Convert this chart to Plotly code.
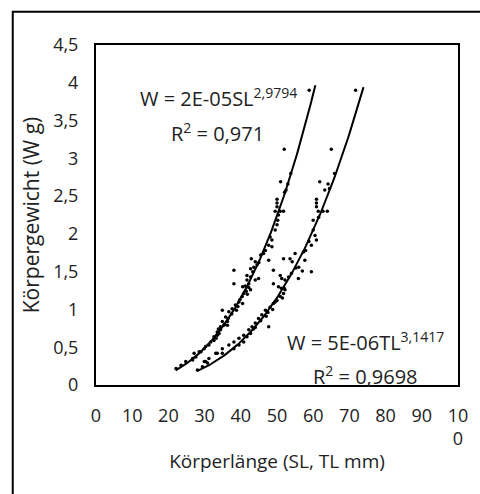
import numpy as np
import plotly.graph_objects as go

# Standard length (SL) data: length mm, weight g
sl_len = [58.9, 52.0, 53.8, 51.0, 53.0, 52.1, 52.5,
          50.0, 50.0, 50.0, 49.5, 50.9, 51.8, 50.4, 50.2, 50.0, 49.5,
          48.1, 48.6, 47.7, 48.6, 46.8, 46.3, 45.5, 47.7, 42.9, 44.0, 45.0,
          44.5, 43.6, 38.1, 42.7, 43.3, 44.9, 42.7, 41.7, 41.7, 44.0, 38.1,
          42.2, 40.5, 41.2, 42.2, 42.7, 41.5, 40.8, 41.8, 40.4, 39.8, 39.5, 40.5,
          38.5, 39.2, 37.6, 38.8, 36.7, 34.9, 37.5, 35.8, 36.5, 34.9, 36.3, 35.5,
          36.3, 35.3, 34.4, 33.8, 34.4, 33.5, 34.0, 33.5, 32.6, 33.2, 32.6, 31.7,
          31.2, 30.3, 29.9, 29.0, 28.5, 27.1, 27.6, 26.7, 26.7, 24.8, 23.5, 22.1]
sl_wt = [3.90, 3.12, 2.80, 2.69, 2.66, 2.55, 2.58,
         2.46, 2.41, 2.36, 2.30, 2.30, 2.30, 2.25, 2.18, 2.12, 2.05,
         1.96, 1.92, 1.85, 1.83, 1.78, 1.74, 1.72, 1.65, 1.67, 1.63, 1.62,
         1.59, 1.56, 1.52, 1.54, 1.50, 1.41, 1.43, 1.45, 1.39, 1.39, 1.34,
         1.34, 1.30, 1.31, 1.29, 1.26, 1.24, 1.21, 1.20, 1.17, 1.13, 1.10, 1.08,
         1.06, 1.04, 1.01, 0.99, 0.97, 0.99, 0.94, 0.90, 0.88, 0.84, 0.84, 0.80,
         0.79, 0.79, 0.77, 0.74, 0.73, 0.70, 0.68, 0.66, 0.64, 0.62, 0.59, 0.57,
         0.53, 0.51, 0.48, 0.44, 0.44, 0.42, 0.37, 0.35, 0.33, 0.31, 0.26, 0.22]

# Total length (TL) data
tl_len = [71.7, 65.0, 65.9, 61.8, 64.1, 63.2, 64.5,
          60.9, 60.9, 60.9, 61.4, 62.7, 63.9, 61.5, 60.0, 60.0, 60.5, 60.9, 59.5, 58.8,
          57.9, 57.3, 55.0, 53.6, 51.8, 57.7, 54.2, 56.0, 57.0, 59.5, 49.0, 55.2, 54.0,
          55.9, 53.2, 52.2, 50.9, 51.3, 49.0, 50.4, 51.2, 52.0, 52.2, 51.8, 50.9, 51.5,
          50.0, 49.5, 49.0, 48.1, 48.8, 46.8, 47.5, 45.8, 47.0, 44.9, 45.5, 44.0, 47.7,
          43.1, 44.0, 43.5, 42.2, 42.7, 41.7, 40.8, 40.8, 39.5, 39.5, 38.1, 38.1, 36.7,
          34.9, 34.9, 33.5, 33.1, 31.2, 30.8, 29.9, 30.3, 29.4, 28.0]
tl_wt = [3.90, 3.12, 2.80, 2.69, 2.66, 2.58, 2.60,
         2.46, 2.41, 2.36, 2.30, 2.30, 2.30, 2.22, 2.18, 2.05, 1.98, 1.92, 1.85, 1.90,
         1.78, 1.76, 1.74, 1.67, 1.67, 1.65, 1.63, 1.56, 1.51, 1.50, 1.52, 1.55, 1.48,
         1.41, 1.43, 1.39, 1.45, 1.41, 1.34, 1.30, 1.28, 1.28, 1.26, 1.21, 1.17, 1.15,
         1.12, 1.10, 1.08, 1.03, 1.00, 0.99, 0.96, 0.93, 0.91, 0.88, 0.85, 0.82, 0.77,
         0.77, 0.76, 0.74, 0.73, 0.68, 0.64, 0.66, 0.57, 0.62, 0.53, 0.57, 0.48, 0.53,
         0.48, 0.42, 0.42, 0.42, 0.35, 0.29, 0.31, 0.31, 0.24, 0.20]

# Power trendlines W = a * L^b (fitted parameters, drawn range)
sl_fit = dict(a=1.94e-5, b=2.9794, lo=22.0, hi=60.6)
tl_fit = dict(a=5.31e-6, b=3.1417, lo=27.9, hi=73.9)

x_ticks = [0, 10, 20, 30, 40, 50, 60, 70, 80, 90, 100]
x_ticktext = ["0", "10", "20", "30", "40", "50", "60", "70", "80", "90", "10<br>0"]
y_ticks = [0, 0.5, 1, 1.5, 2, 2.5, 3, 3.5, 4, 4.5]
y_ticktext = ["0", "0,5", "1", "1,5", "2", "2,5", "3", "3,5", "4", "4,5"]

FONT = "Open Sans"
TXT = "#222"

fig = go.Figure()
for fit in (sl_fit, tl_fit):
    xs = np.linspace(fit["lo"], fit["hi"], 120)
    fig.add_trace(go.Scatter(x=xs, y=fit["a"] * xs ** fit["b"], mode="lines",
                             line=dict(color="black", width=2), hoverinfo="skip"))
fig.add_trace(go.Scatter(x=sl_len, y=sl_wt, mode="markers",
                         marker=dict(color="black", size=3.5)))
fig.add_trace(go.Scatter(x=tl_len, y=tl_wt, mode="markers",
                         marker=dict(color="black", size=3.5)))

ann_font = dict(family=FONT, size=20, color=TXT)
annotations = [
    dict(x=11.5, y=3.81, text="W = 2E-05SL<sup>2,9794</sup>"),
    dict(x=20.3, y=3.34, text="R<sup>2</sup> = 0,971"),
    dict(x=52.1, y=0.57, text="W = 5E-06TL<sup>3,1417</sup>"),
    dict(x=59.5, y=0.13, text="R<sup>2</sup> = 0,9698"),
]
for a in annotations:
    a.update(xref="x", yref="y", xanchor="left", yanchor="middle",
             showarrow=False, font=ann_font)

fig.update_layout(
    width=480, height=494,
    margin=dict(l=96, r=19, t=45, b=109),
    paper_bgcolor="white", plot_bgcolor="white",
    showlegend=False,
    font=dict(family=FONT, color=TXT),
    annotations=annotations,
    shapes=[dict(type="rect", xref="paper", yref="paper",
                 x0=-0.230, x1=1.07, y0=-0.34, y1=1.098,
                 line=dict(color="black", width=2), layer="above")],
)
fig.update_xaxes(range=[0, 100], tickvals=x_ticks, ticktext=x_ticktext,
                 showgrid=False, zeroline=False, showline=True, mirror=True,
                 linecolor="black", linewidth=2,
                 ticks="outside", ticklen=13, tickcolor="rgba(0,0,0,0)",
                 tickfont=dict(family=FONT, size=18, color=TXT),
                 title=dict(text="Körperlänge (SL, TL mm)", standoff=6,
                            font=dict(family=FONT, size=19, color=TXT)))
fig.update_yaxes(range=[0, 4.5], tickvals=y_ticks, ticktext=y_ticktext,
                 showgrid=False, zeroline=False, showline=True, mirror=True,
                 linecolor="black", linewidth=2,
                 ticks="outside", ticklen=12, tickcolor="rgba(0,0,0,0)",
                 tickfont=dict(family=FONT, size=18, color=TXT),
                 title=dict(text="Körpergewicht (W g)", standoff=8,
                            font=dict(family=FONT, size=21, color=TXT)))

fig.write_html("out.html", config={"displayModeBar": False},
               post_script="document.body.style.margin='0';"
                           "document.body.style.overflow='hidden';")
